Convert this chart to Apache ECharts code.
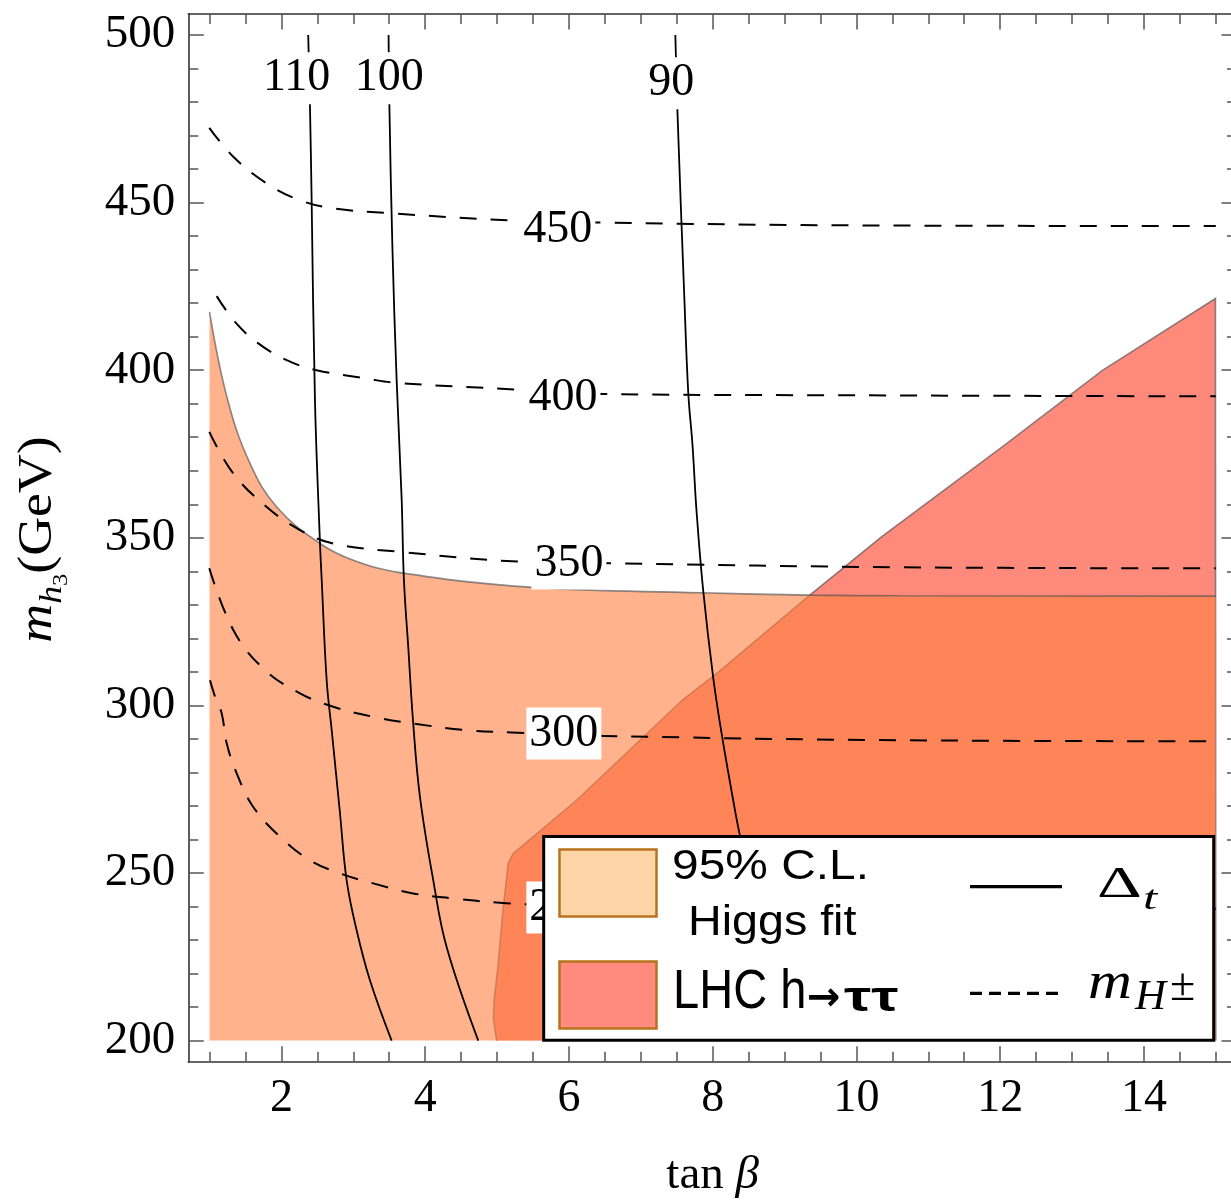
<!DOCTYPE html>
<html><head><meta charset="utf-8">
<script src="https://cdn.jsdelivr.net/npm/echarts@6/dist/echarts.min.js"></script>
<style>html,body{margin:0;padding:0;background:#fff}#c{width:1231px;height:1201px}</style>
</head><body><div id="c"></div>
<script>
// ---------------- data ----------------
const xTickLabels = [2, 4, 6, 8, 10, 12, 14];
const xMinorTicks = [1, 1.5, 2, 2.5, 3, 3.5, 4, 4.5, 5, 5.5, 6, 6.5, 7, 7.5, 8, 8.5, 9, 9.5, 10, 10.5, 11, 11.5, 12, 12.5, 13, 13.5, 14, 14.5, 15];
const yTickLabels = [200, 250, 300, 350, 400, 450, 500];
const yMinorTicks = [200, 210, 220, 230, 240, 250, 260, 270, 280, 290, 300, 310, 320, 330, 340, 350, 360, 370, 380, 390, 400, 410, 420, 430, 440, 450, 460, 470, 480, 490, 500];

// 95% C.L. Higgs fit region: upper boundary (region filled down to m = 200)
const higgsFitX = [1.0, 1.253, 1.563, 1.935, 2.537, 3.000, 3.650, 5.503, 7.822, 9.352, 10.60, 15.0];
const higgsFitY = [417.4, 391.1, 372.2, 359.2, 348.3, 343.3, 339.6, 335.2, 333.6, 332.9, 332.7, 332.6];
const higgsFitFloor = 200;

// LHC h -> tau tau excluded region (closed polygon)
const lhcX = [4.994, 4.950, 4.960, 5.017, 5.078, 5.156, 5.225, 6.107, 7.579, 8.054, 9.352, 10.349, 12.028, 13.427, 14.995, 15.0];
const lhcY = [200, 206.5, 212.0, 223.0, 237.9, 252.9, 255.8, 271.7, 301.6, 309.5, 332.9, 350.3, 377.1, 400.0, 421.4, 200];

// Delta_t contours (solid)
const delta110X = [2.373, 2.398, 2.421, 2.467, 2.537, 2.561, 2.630, 2.700, 2.815, 2.908, 3.047, 3.232, 3.534];
const delta110Y = [500, 478.5, 450.7, 391.1, 348.4, 337.4, 307.5, 292.6, 267.9, 247.8, 232.9, 218.0, 200];
const delta100X = [3.491, 3.503, 3.545, 3.604, 3.673, 3.705, 3.765, 3.834, 3.928, 4.113, 4.299, 4.739];
const delta100Y = [500, 478.5, 436.4, 396.8, 361.7, 337.4, 317.4, 294.7, 272.7, 247.8, 227.9, 200];
const delta90X = [7.481, 7.509, 7.606, 7.662, 7.719, 7.775, 7.868, 8.007, 8.124, 8.285, 8.378, 8.70, 9.15];
const delta90Y = [500, 477.9, 421.7, 392.8, 377.9, 358.2, 334.4, 308.4, 291.7, 271.8, 261.3, 230, 200];

// m_H+- contours (dashed)
const mH450X = [0.997, 1.331, 1.796, 2.259, 2.722, 3.534, 5.246, 6.524, 10.03, 15.0];
const mH450Y = [472.3, 463.7, 455.7, 450.7, 448.3, 446.8, 444.6, 444.0, 443.2, 443.0];
const mH400X = [1.100, 1.355, 1.679, 2.074, 2.491, 3.186, 3.604, 5.30, 6.51, 10.0, 15.0];
const mH400Y = [422.1, 414.4, 408.0, 403.0, 400.0, 397.5, 396.2, 394.2, 392.9, 392.5, 392.2];
const mH350X = [0.997, 1.331, 1.796, 2.259, 2.722, 3.650, 5.412, 6.612, 10.60, 15.0];
const mH350Y = [381.6, 369.2, 359.2, 352.3, 348.3, 345.8, 342.8, 342.4, 341.2, 340.9];
const mH300X = [0.997, 1.331, 1.748, 2.259, 2.722, 3.278, 3.834, 4.577, 5.203, 6.477, 10.60, 15.0];
const mH300Y = [340.9, 322.5, 311.0, 303.6, 299.6, 296.6, 294.6, 292.6, 291.9, 290.9, 289.6, 289.3];
const mH250X = [1.007, 1.077, 1.170, 1.239, 1.378, 1.609, 1.981, 2.398, 2.815, 3.278, 3.834, 4.391, 5.040, 5.388, 8.0, 15.0];
const mH250Y = [307.5, 302.6, 297.6, 288.7, 279.7, 269.7, 260.8, 253.8, 249.9, 246.9, 243.9, 242.4, 241.1, 240.7, 239.8, 239.3];

// contour labels
const contourLabelX = [2.213, 3.501, 7.423, 5.846, 5.917, 6.000, 5.930, 5.930];
const contourLabelY = [487.1, 487.1, 485.6, 441.8, 391.6, 342.3, 291.6, 239.7];
const contourLabelText = ['110', '100', '90', '450', '400', '350', '300', '250'];

// ---------------- chart ----------------
const SERIF = 'Liberation Serif';
const SANS = 'Liberation Sans';
const X_MIN = 0.705, X_MAX = 15.295, Y_MIN = 193.7, Y_MAX = 506.26;

function pairs(xs, ys) { return xs.map((x, i) => [x, ys[i]]); }

const frameLine = { show: true, onZero: false, lineStyle: { color: '#333', width: 1.6 } };
const tickStyle = { color: '#555', width: 1.5 };

function xAxisDef(pos, major, withLine, withLabel) {
  return {
    type: 'value', min: X_MIN, max: X_MAX, position: pos, gridIndex: 0,
    axisLine: withLine ? frameLine : { show: false },
    axisTick: { show: true, inside: true, length: major ? 15.5 : 10, customValues: major ? xTickLabels : xMinorTicks, lineStyle: tickStyle },
    axisLabel: withLabel ? { show: true, customValues: xTickLabels, fontFamily: SERIF, fontSize: 46, color: '#000', margin: 12, lineHeight: 50 } : { show: false },
    splitLine: { show: false }
  };
}
function yAxisDef(pos, major, withLine, withLabel) {
  return {
    type: 'value', min: Y_MIN, max: Y_MAX, position: pos, gridIndex: 0,
    axisLine: withLine ? frameLine : { show: false },
    axisTick: { show: true, inside: true, length: major ? 15.5 : 10, customValues: major ? yTickLabels : yMinorTicks, lineStyle: tickStyle },
    axisLabel: withLabel ? { show: true, customValues: yTickLabels, fontFamily: SERIF, fontSize: 47, color: '#000', margin: 13 } : { show: false },
    splitLine: { show: false }
  };
}

const xAxes = [xAxisDef('bottom', true, true, true), xAxisDef('bottom', false, false, false), xAxisDef('top', true, true, false), xAxisDef('top', false, false, false)];
xAxes[0].name = 'tan {b|β}';
xAxes[0].nameLocation = 'middle';
xAxes[0].nameGap = 89;
xAxes[0].nameMoveOverlap = false;
xAxes[0].nameTextStyle = { fontFamily: SERIF, fontSize: 47, color: '#000', lineHeight: 50,
  rich: { b: { fontFamily: SERIF, fontStyle: 'italic', fontSize: 47, lineHeight: 50, color: '#000' } } };

const yAxes = [yAxisDef('left', true, true, true), yAxisDef('left', false, false, false), yAxisDef('right', true, true, false), yAxisDef('right', false, false, false)];

function contour(xs, ys, dashed) {
  return {
    type: 'line', xAxisIndex: 0, yAxisIndex: 0, data: pairs(xs, ys), symbol: 'none', smooth: 0.4,
    silent: true, z: 4, animation: false,
    lineStyle: { color: '#000', width: dashed ? 2 : 1.8, type: dashed ? [17, 14] : 'solid' }
  };
}

const series = [
  // LHC region (polygon)
  {
    type: 'custom', coordinateSystem: 'cartesian2d', xAxisIndex: 0, yAxisIndex: 0,
    data: [[lhcX[0], lhcY[0]]], silent: true, z: 1, animation: false,
    renderItem: function (params, api) {
      const pts = lhcX.map((x, i) => api.coord([x, lhcY[i]]));
      return { type: 'group', children: [
        { type: 'polygon', shape: { points: pts }, style: { fill: '#FF8A7C', stroke: null } },
        { type: 'polyline', shape: { points: pts }, style: { fill: null, stroke: 'rgba(80,80,80,0.65)', lineWidth: 1.6 } }
      ] };
    }
  },
  // Higgs fit region (area under boundary)
  {
    type: 'line', xAxisIndex: 0, yAxisIndex: 0, data: pairs(higgsFitX, higgsFitY), symbol: 'none',
    smooth: 0.4, silent: true, z: 2, animation: false,
    lineStyle: { color: 'rgba(80,80,80,0.65)', width: 1.6 },
    areaStyle: { color: 'rgba(255,129,66,0.61)', opacity: 1, origin: higgsFitFloor }
  },
  contour(delta110X, delta110Y, false),
  contour(delta100X, delta100Y, false),
  contour(delta90X, delta90Y, false),
  contour(mH450X, mH450Y, true),
  contour(mH400X, mH400Y, true),
  contour(mH350X, mH350Y, true),
  contour(mH300X, mH300Y, true),
  contour(mH250X, mH250Y, true),
  // contour labels
  {
    type: 'custom', coordinateSystem: 'cartesian2d', xAxisIndex: 0, yAxisIndex: 0, silent: true, z: 6, animation: false,
    data: contourLabelX.map((x, i) => [x, contourLabelY[i]]),
    renderItem: function (params, api) {
      const p = api.coord([api.value(0), api.value(1)]);
      return { type: 'text', x: p[0], y: p[1], style: {
        text: contourLabelText[params.dataIndex], font: '46px "Liberation Serif"', fill: '#000', opacity: 1,
        align: 'center', verticalAlign: 'middle', backgroundColor: '#fff', padding: [1, 3], lineHeight: 50 } };
    }
  }
];

function txt(text, x, y, fontSize, family, opts) {
  opts = opts || {};
  return { type: 'text', z: 101, silent: true, x: x, y: y, scaleX: opts.scaleX || 1, rotation: opts.rotation || 0,
    style: { text: text, fill: '#000', fontSize: fontSize, fontFamily: family, fontStyle: opts.italic ? 'italic' : 'normal',
      fontWeight: opts.bold ? 'bold' : 'normal', align: opts.align || 'left', verticalAlign: 'middle', rich: opts.rich } };
}

const graphics = [
  // y-axis title
  { type: 'text', z: 101, silent: true, x: 38, y: 539.5, rotation: Math.PI / 2, scaleX: 1.12,
    style: { text: '{m|m}{h|h}{s|3}{g|(GeV)}', align: 'center', verticalAlign: 'middle', rich: {
      m: { fontFamily: SERIF, fontStyle: 'italic', fontSize: 48, lineHeight: 70, fill: '#000' },
      h: { fontFamily: SERIF, fontStyle: 'italic', fontSize: 32, lineHeight: 32, padding: [30, 0, 0, 0], fill: '#000' },
      s: { fontFamily: SERIF, fontSize: 22, lineHeight: 22, padding: [46, 0, 0, 0], fill: '#000' },
      g: { fontFamily: SERIF, fontSize: 48, lineHeight: 70, fill: '#000' } } } },
  // legend box
  { type: 'rect', z: 100, silent: true, shape: { x: 543.7, y: 836.5, width: 670, height: 203.7 }, style: { fill: '#fff', stroke: '#000', lineWidth: 3 } },
  { type: 'rect', z: 101, silent: true, shape: { x: 559.5, y: 849.5, width: 97, height: 67 }, style: { fill: '#FFD5A8', stroke: '#B8731A', lineWidth: 2.5 } },
  { type: 'rect', z: 101, silent: true, shape: { x: 559.5, y: 961.5, width: 97, height: 67 }, style: { fill: '#FF8B7E', stroke: '#B8731A', lineWidth: 2.5 } },
  txt('95% C.L.', 672, 867, 42, SANS, { scaleX: 1.14 }),
  txt('Higgs fit', 688, 923.7, 42, SANS, { scaleX: 1.11 }),
  txt('LHC h', 673, 993, 56, SANS, { scaleX: 0.84 }),
  txt('→', 807, 1000, 40, 'DejaVu Sans', { bold: true, scaleX: 1.0 }),
  txt('ττ', 844, 999, 42, SANS, { bold: true, scaleX: 1.45 }),
  { type: 'line', z: 101, silent: true, shape: { x1: 970, y1: 886.7, x2: 1062, y2: 886.7 }, style: { stroke: '#000', lineWidth: 3.3 } },
  { type: 'line', z: 101, silent: true, shape: { x1: 970, y1: 993.3, x2: 1062, y2: 993.3 }, style: { stroke: '#000', lineWidth: 3.3, lineDash: [12, 7] } },
  txt('Δ', 1097, 885, 45, SERIF, { scaleX: 1.55 }),
  txt('t', 1143, 900, 34, SERIF, { italic: true, scaleX: 1.5 }),
  txt('m', 1088, 984.5, 52, SERIF, { italic: true, scaleX: 1.17 }),
  txt('H', 1135, 997.5, 43, SERIF, { italic: true }),
  txt('±', 1170, 988, 46, SERIF)
];

const chart = echarts.init(document.getElementById('c'), null, { renderer: 'canvas' });
chart.setOption({
  animation: false,
  backgroundColor: '#fff',
  grid: { left: 188.3, top: 14, width: 1048.7, height: 1047.7, containLabel: false, outerBoundsMode: 'none' },
  xAxis: xAxes,
  yAxis: yAxes,
  series: series,
  graphic: { elements: graphics }
});
</script>
</body></html>
